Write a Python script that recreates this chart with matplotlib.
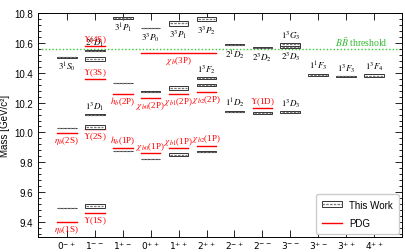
import numpy as np
import matplotlib.pyplot as plt
from matplotlib.patches import Rectangle, Patch
from matplotlib.lines import Line2D
from matplotlib.legend_handler import HandlerTuple
from matplotlib.ticker import MultipleLocator, FixedLocator

plt.rcParams['mathtext.fontset'] = 'stix'
plt.rcParams['font.family'] = 'Liberation Sans'

# J^PC channels along the x axis
channels = ['0^{-+}', '1^{--}', '1^{+-}', '0^{++}', '1^{++}', '2^{++}',
            '2^{-+}', '2^{--}', '3^{--}', '3^{+-}', '3^{++}', '4^{++}']

# this work: channel index, mass, half error, label, label side
tw_col = [0, 0, 0, 1, 1, 1, 1, 1, 2, 2, 2, 3, 3, 3, 4, 4, 4,
          5, 5, 5, 5, 6, 6, 7, 7, 8, 8, 8, 9, 10, 11, 12.45]
tw_mass = [9.494, 10.030, 10.503, 9.507, 10.036, 10.119, 10.492, 10.547,
           9.876, 10.331, 10.767, 9.822, 10.273, 10.700, 9.852, 10.298, 10.730,
           9.872, 10.318, 10.363, 10.758, 10.139, 10.588, 10.130, 10.566,
           10.139, 10.575, 10.590, 10.385, 10.376, 10.380, 10.614]
tw_err = [0.002, 0.002, 0.002, 0.013, 0.013, 0.004, 0.016, 0.005,
          0.003, 0.002, 0.008, 0.002, 0.003, 0.002, 0.009, 0.011, 0.015,
          0.005, 0.007, 0.008, 0.013, 0.003, 0.004, 0.004, 0.004,
          0.006, 0.007, 0.011, 0.004, 0.004, 0.009, 0.010]
tw_name = ['', '', '3^1S_0', '', '', '1^3D_1', '', '2^3D_1',
           '', '', '3^1P_1', '', '', '3^3P_0', '', '', '3^3P_1',
           '', '', '1^3F_2', '3^3P_2', '1^1D_2', '2^1D_2', '', '2^3D_2',
           '1^3D_3', '2^3D_3', '1^3G_3', '1^1F_3', '1^3F_3', '1^3F_4', '']
tw_side = ['', '', 'below', '', '', 'above', '', 'above',
           '', '', 'below', '', '', 'below', '', '', 'below',
           '', '', 'above', 'below', 'above', 'below', '', 'below',
           'above', 'below', 'above', 'above', 'above', 'above', '']

# PDG states
pdg_col = [0, 0, 1, 1, 1, 1, 2, 2, 3, 3, 4, 4, 5, 5, 4, 7]
pdg_mass = [9.3987, 9.9990, 9.4603, 10.0233, 10.3552, 10.5794, 9.8993, 10.2598,
            9.8594, 10.2325, 9.8928, 10.2555, 9.9122, 10.2686, 10.534, 10.1637]
pdg_name = [r'$\eta_b$(1S)', r'$\eta_b$(2S)', r'$\Upsilon$(1S)', r'$\Upsilon$(2S)',
            r'$\Upsilon$(3S)', r'$\Upsilon$(4S)', r'$h_b$(1P)', r'$h_b$(2P)',
            r'$\chi_{b0}$(1P)', r'$\chi_{b0}$(2P)', r'$\chi_{b1}$(1P)', r'$\chi_{b1}$(2P)',
            r'$\chi_{b2}$(1P)', r'$\chi_{b2}$(2P)', r'$\chi_b$(3P)', r'$\Upsilon$(1D)']
pdg_side = ['below', 'below', 'below', 'below', 'above', 'above', 'above', 'below',
            'above', 'below', 'above', 'below', 'above', 'below', 'below', 'above']
pdg_halfw = [0.35] * 14 + [1.35, 0.35]

bb_threshold = 10.559

fig = plt.figure(figsize=(4.06, 2.53), dpi=100)
ax = fig.add_axes([0.094, 0.059, 0.896, 0.886])

hw = 0.35
for x, m, e, name, side in zip(tw_col, tw_mass, tw_err, tw_name, tw_side):
    ax.add_patch(Rectangle((x - hw, m - e), 2 * hw, 2 * e, fc='white', ec='#333333',
                           lw=0.7, zorder=3, clip_on=False))
    ax.plot([x - hw + 0.04, x + hw - 0.04], [m, m], color='#777777', ls=(0, (2, 1)),
            lw=0.9, zorder=4, clip_on=False)
    if name:
        off = 1.5 if side == 'above' else -1.5
        ax.annotate('$' + name + '$', (x, m + (e if side == 'above' else -e)),
                    xytext=(0, off), textcoords='offset points', ha='center',
                    va='bottom' if side == 'above' else 'top', fontsize=6.5,
                    color='black', zorder=5)

for x, m, name, side, w in zip(pdg_col, pdg_mass, pdg_name, pdg_side, pdg_halfw):
    ax.plot([x - w, x + w], [m, m], color='red', lw=1.0, zorder=2)
    off = 0.8 if side == 'above' else -0.8
    ax.annotate(name, (x, m), xytext=(0, off), textcoords='offset points', ha='center',
                va='bottom' if side == 'above' else 'top', fontsize=6.5, color='red',
                family='Liberation Serif', zorder=5)

ax.axhline(bb_threshold, color='#33cc33', ls=(0, (1, 1.5)), lw=1.0, zorder=1)
ax.text(10.55, bb_threshold + 0.006, r'$B\bar{B}$ threshold', color='#33bb33',
        fontsize=7, family='Liberation Serif', ha='center', va='bottom')

ax.set_xlim(-1.03, 12.0)
ax.set_ylim(9.3, 10.8)
ax.xaxis.set_major_locator(FixedLocator(range(len(channels))))
ax.set_xticklabels(['$' + c + '$' for c in channels], fontsize=6.5)
for t in ax.get_xticklabels():
    t.set_math_fontfamily('dejavusans')
ax.yaxis.set_major_locator(MultipleLocator(0.2))
ax.yaxis.set_minor_locator(MultipleLocator(0.04))
ax.tick_params(direction='in', top=True, right=True, labelsize=7, length=5, width=0.6)
ax.tick_params(which='minor', direction='in', right=True, length=2.5, width=0.6)
ax.tick_params(axis='x', pad=1.5, labelsize=6.5)
for s in ax.spines.values():
    s.set_linewidth(0.7)
ax.set_ylabel('Mass [GeV/c\u00b2]', fontsize=7, labelpad=3)

h_tw = (Patch(fc='white', ec='#333333', lw=0.7),
        Line2D([], [], color='#777777', ls=(0, (2, 1)), lw=0.9))
h_pdg = Line2D([], [], color='red', lw=1.0)
ax.legend([h_tw, h_pdg], ['This Work', 'PDG'], handler_map={tuple: HandlerTuple(ndivide=1)},
          loc='lower right', fontsize=7, borderpad=0.6, labelspacing=0.9,
          handleheight=0.6, framealpha=1, borderaxespad=0.3)

fig.savefig('out.png', dpi=100)
